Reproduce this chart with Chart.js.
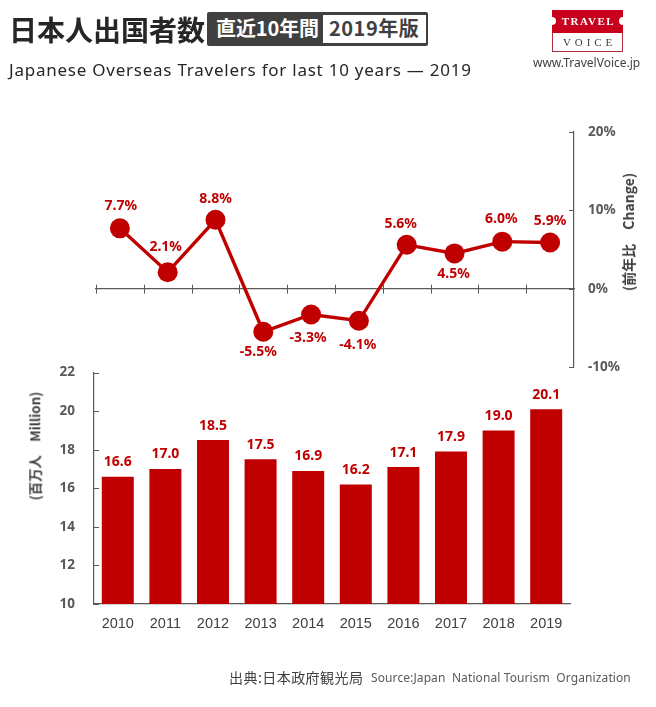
<!DOCTYPE html>
<html lang="ja"><head><meta charset="utf-8">
<script src="https://cdn.jsdelivr.net/npm/chart.js@4"></script>
<style>
html,body{margin:0;padding:0;background:#fff;}
#wrap{position:relative;width:656px;height:707px;overflow:hidden;font-family:"Noto Sans CJK JP","Noto Sans",sans-serif;}
canvas{position:absolute;left:0;top:0;}
.t{position:absolute;white-space:pre;line-height:1;}
</style></head><body><div id="wrap">
<canvas id="lineChart" width="656" height="707"></canvas>
<canvas id="barChart" width="656" height="707"></canvas>
<div class="t" style="left:9px;top:15px;font-size:28px;font-weight:700;color:#262626;">日本人出国者数</div>
<div style="position:absolute;left:207px;top:12px;width:221px;height:34px;background:#404040;border-radius:2px;"></div>
<div style="position:absolute;left:323px;top:15px;width:103px;height:28px;background:#fff;"></div>
<div class="t" style="left:216px;top:18px;font-size:20px;font-weight:700;color:#fff;letter-spacing:-.1px;">直近10年間</div>
<div class="t" style="left:329px;top:18px;font-size:20px;font-weight:700;color:#404040;letter-spacing:.5px;">2019年版</div>
<div class="t" style="left:9px;top:61px;font-family:'Noto Sans';font-size:17px;color:#262626;letter-spacing:.76px;">Japanese Overseas Travelers for last 10 years — 2019</div>
<div style="position:absolute;left:552px;top:10px;width:71px;height:23px;background:#c8001e;"></div>
<div style="position:absolute;left:548px;top:17px;width:8px;height:8px;border-radius:50%;background:#fff;"></div>
<div style="position:absolute;left:619px;top:17px;width:8px;height:8px;border-radius:50%;background:#fff;"></div>
<div style="position:absolute;left:552px;top:33px;width:69px;height:18px;border:1px solid #b03040;border-top:none;"></div>
<div class="t" style="left:553px;top:16px;width:71px;text-align:center;font-family:'Liberation Serif';font-size:11px;font-weight:700;color:#fff;letter-spacing:1.5px;">TRAVEL</div>
<div class="t" style="left:554px;top:37px;width:71px;text-align:center;font-family:'Liberation Serif';font-size:11px;color:#404040;letter-spacing:3.9px;">VOICE</div>
<div class="t" style="left:533px;top:57px;font-family:'Noto Sans';font-size:12px;color:#404040;">www.TravelVoice.jp</div>
<div class="t" id="tL" style="left:35px;top:446px;font-size:13.4px;font-weight:700;color:#404040;transform:translate(-50%,-50%) rotate(-90deg);">(百万人　Million)</div>
<div class="t" id="tR" style="left:628px;top:232px;font-size:14px;font-weight:700;color:#404040;transform:translate(-50%,-50%) rotate(-90deg);">(前年比　Change)</div>
<div class="t" style="left:229px;top:670px;font-size:14px;letter-spacing:.45px;color:#404040;">出典:日本政府観光局</div>
<div class="t" style="left:371px;top:672px;font-family:'Noto Sans';font-size:12px;letter-spacing:.1px;color:#595959;">Source:Japan  National Tourism  Organization</div>
</div>
<script>
const categories = ['2010','2011','2012','2013','2014','2015','2016','2017','2018','2019'];
const travelers = [16.6,17.0,18.5,17.5,16.9,16.2,17.1,17.9,19.0,20.1];
const change = [7.7,2.1,8.8,-5.5,-3.3,-4.1,5.6,4.5,6.0,5.9];
const changeTicks = [-10,0,10,20];
const travelerTicks = [10,12,14,16,18,20,22];

const RED='#C00000', AXIS='#595959', LABEL='#595959';
const labelFont='700 14px "Noto Sans","Open Sans",sans-serif';
Chart.defaults.devicePixelRatio=1;
Chart.defaults.animation=false;

// [dx, dy] of each percentage label from its point
const lineLabelShift=[[1,-22],[-2,-25],[0,-21],[-5,20],[-3,23],[-1,24],[-6,-21],[-1,21],[-1,-23],[0,-21]];

const lineDecor={id:'lineDecor',afterDatasetsDraw(c){
  const g=c.ctx,x=c.scales.x,y=c.scales.y,y0=y.getPixelForValue(0);
  g.save();g.strokeStyle=AXIS;g.lineWidth=1;
  const half=(x.getPixelForTick(1)-x.getPixelForTick(0))/2;
  g.beginPath();
  for(let i=0;i<categories.length;i++){const p=Math.round(x.getPixelForTick(i)-half)+.5;g.moveTo(p,y0-4);g.lineTo(p,y0+5);}
  changeTicks.forEach(v=>{const p=Math.round(y.getPixelForValue(v))+.5;g.moveTo(x.right-5,p);g.lineTo(x.right,p);});
  g.stroke();
  g.font=labelFont;g.fillStyle=RED;g.textAlign='center';g.textBaseline='middle';
  const m=c.getDatasetMeta(0).data;
  change.forEach((v,i)=>g.fillText(v.toFixed(1)+'%',m[i].x+lineLabelShift[i][0],m[i].y+lineLabelShift[i][1]));
  g.restore();
}};
const barDecor={id:'barDecor',afterDatasetsDraw(c){
  const g=c.ctx,y=c.scales.y;
  g.save();g.strokeStyle=AXIS;g.lineWidth=1;g.beginPath();
  travelerTicks.forEach(v=>{const p=Math.round(y.getPixelForValue(v))+.5;g.moveTo(y.right,p);g.lineTo(y.right+5,p);});
  g.stroke();
  g.font=labelFont;g.fillStyle=RED;g.textAlign='center';g.textBaseline='middle';
  const m=c.getDatasetMeta(0).data;
  travelers.forEach((v,i)=>g.fillText(v.toFixed(1),m[i].x,m[i].y-14.5));
  g.restore();
}};

new Chart(document.getElementById('lineChart'),{
  type:'line',
  data:{labels:categories,datasets:[{data:change,borderColor:RED,backgroundColor:RED,borderWidth:3.4,pointRadius:10,pointBackgroundColor:RED,pointBorderColor:RED,pointBorderWidth:0,tension:0,clip:false}]},
  options:{responsive:false,
    layout:{padding:{left:96,top:132,bottom:340,right:0}},
    plugins:{legend:{display:false},tooltip:{enabled:false}},
    scales:{
      x:{position:{y:0},offset:true,grid:{display:false},border:{color:AXIS,width:1.2},ticks:{display:false}},
      y:{position:'right',min:-10,max:20,afterBuildTicks(s){s.ticks=changeTicks.map(v=>({value:v}));},
        afterFit(s){s.width=82;},
        grid:{display:false,drawTicks:false},border:{color:AXIS,width:1.2},
        ticks:{padding:14,color:LABEL,font:{family:'"Noto Sans"',size:13.5,weight:'700'},callback:v=>v+'%'}}
    }},
  plugins:[lineDecor]
});

new Chart(document.getElementById('barChart'),{
  type:'bar',
  data:{labels:categories,datasets:[{data:travelers,backgroundColor:RED,barPercentage:1,categoryPercentage:.672}]},
  options:{responsive:false,
    layout:{padding:{left:0,top:372.5,bottom:0,right:86}},
    plugins:{legend:{display:false},tooltip:{enabled:false}},
    scales:{
      x:{afterFit(s){s.height=103;},grid:{display:false,drawTicks:false},border:{color:AXIS,width:1.2},
        ticks:{padding:11,maxRotation:0,autoSkip:false,color:'#404040',font:{family:'"Liberation Sans"',size:14.5}}},
      y:{min:10,max:22,afterBuildTicks(s){s.ticks=travelerTicks.map(v=>({value:v}));},
        afterFit(s){s.width=94;},
        grid:{display:false,drawTicks:false},border:{color:AXIS,width:1.2},
        ticks:{padding:19,color:LABEL,font:{family:'"Noto Sans"',size:13.5,weight:'700'}}}
    }},
  plugins:[barDecor]
});
</script></body></html>
